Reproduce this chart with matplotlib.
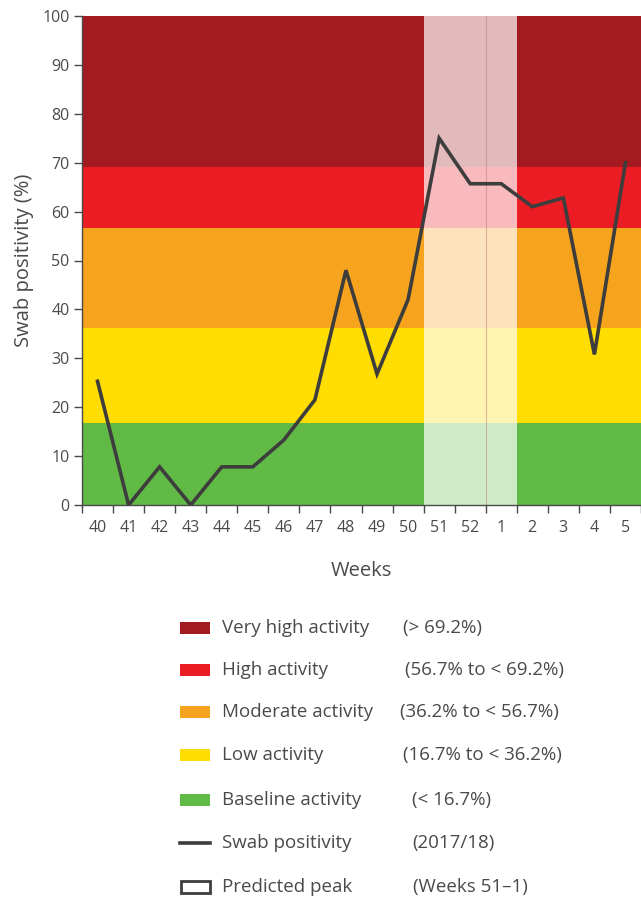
import matplotlib
matplotlib.use("Agg")
import matplotlib.pyplot as plt
from matplotlib.patches import Rectangle
from matplotlib.lines import Line2D

plt.rcParams['font.family'] = ['Open Sans', 'DejaVu Sans']

weeks = ['40', '41', '42', '43', '44', '45', '46', '47', '48', '49', '50',
         '51', '52', '1', '2', '3', '4', '5']
positivity = [25.3, 0, 7.8, 0, 7.8, 7.8, 13.3, 21.5, 48.0, 26.8, 42.0,
              75.0, 65.7, 65.7, 61.0, 62.8, 30.8, 70.0]

thresholds = [0, 16.7, 36.2, 56.7, 69.2, 100]
band_colors = ['#61b946', '#ffdd00', '#f6a31d', '#ec1c24', '#a31b20']
peak_weeks = ['51', '1']

legend_names = ['Very high activity', 'High activity', 'Moderate activity',
                'Low activity', 'Baseline activity', 'Swab positivity',
                'Predicted peak']
legend_notes = ['(> 69.2%)', '(56.7% to < 69.2%)', '(36.2% to < 56.7%)',
                '(16.7% to < 36.2%)', '(< 16.7%)', '(2017/18)', '(Weeks 51\u20131)']

grey = '#4a4a4a'
line_col = '#3d3d3d'

fig = plt.figure(figsize=(6.41, 9.0), dpi=100)
ax = fig.add_axes([82 / 641, 395 / 900, 559 / 641, 489 / 900])

x = list(range(len(weeks)))
for lo, hi, c in zip(thresholds[:-1], thresholds[1:], band_colors):
    ax.axhspan(lo, hi, color=c, lw=0, zorder=0)

p0 = weeks.index(peak_weeks[0]) - 0.5
p1 = weeks.index(peak_weeks[1]) + 0.5
ax.axvspan(p0, p1, color='white', alpha=0.7, lw=0, zorder=1)
ax.axvline(weeks.index('52') + 0.5, color='#b07070', alpha=0.45, lw=0.8, zorder=1)

ax.plot(x, positivity, color=line_col, lw=2.6, zorder=3, solid_joinstyle='miter')

ax.set_xlim(-0.5, -0.5 + 559 / 31.2)
ax.set_ylim(0, 100)
ax.set_yticks(range(0, 101, 10))
ax.set_xticks(x)
ax.set_xticklabels(weeks)
ax.set_xticks([i - 0.5 for i in range(len(weeks) + 1)], minor=True)
ax.tick_params(axis='x', which='major', length=0, pad=11, labelsize=11.5, labelcolor=grey)
ax.tick_params(axis='x', which='minor', length=6, color=grey, width=1)
ax.tick_params(axis='y', length=6, color=grey, width=1, labelsize=11.5, labelcolor=grey, pad=3)
for s in ['top', 'right']:
    ax.spines[s].set_visible(False)
for s in ['left', 'bottom']:
    ax.spines[s].set_color(grey)
    ax.spines[s].set_linewidth(1)
ax.set_xlabel('Weeks', fontsize=14.5, color=grey, labelpad=18)
ax.set_ylabel('Swab positivity (%)', fontsize=14.5, color=grey, labelpad=6)

# legend drawn by hand below the chart
lax = fig.add_axes([0, 0, 1, 1], facecolor='none')
lax.set_xlim(0, 641)
lax.set_ylim(900, 0)
lax.axis('off')
row_y = [628, 670, 712, 755, 800, 843, 887]
note_x = [403, 405, 400, 403, 412, 412, 413]
swatches = list(reversed(band_colors))
for i, (name, note) in enumerate(zip(legend_names, legend_notes)):
    y = row_y[i]
    if i < 5:
        lax.add_patch(Rectangle((180, y - 6), 30, 12, color=swatches[i], lw=0))
    elif i == 5:
        lax.add_line(Line2D([180, 210], [y, y], color=line_col, lw=2.6))
    else:
        lax.add_patch(Rectangle((181, y - 6), 29, 12, facecolor='white',
                                edgecolor=line_col, lw=2))
    lax.text(222, y, name, fontsize=13.5, color=grey, va='center', ha='left')
    lax.text(note_x[i], y, note, fontsize=13.5, color=grey, va='center', ha='left')

fig.savefig('out.png', dpi=100)
